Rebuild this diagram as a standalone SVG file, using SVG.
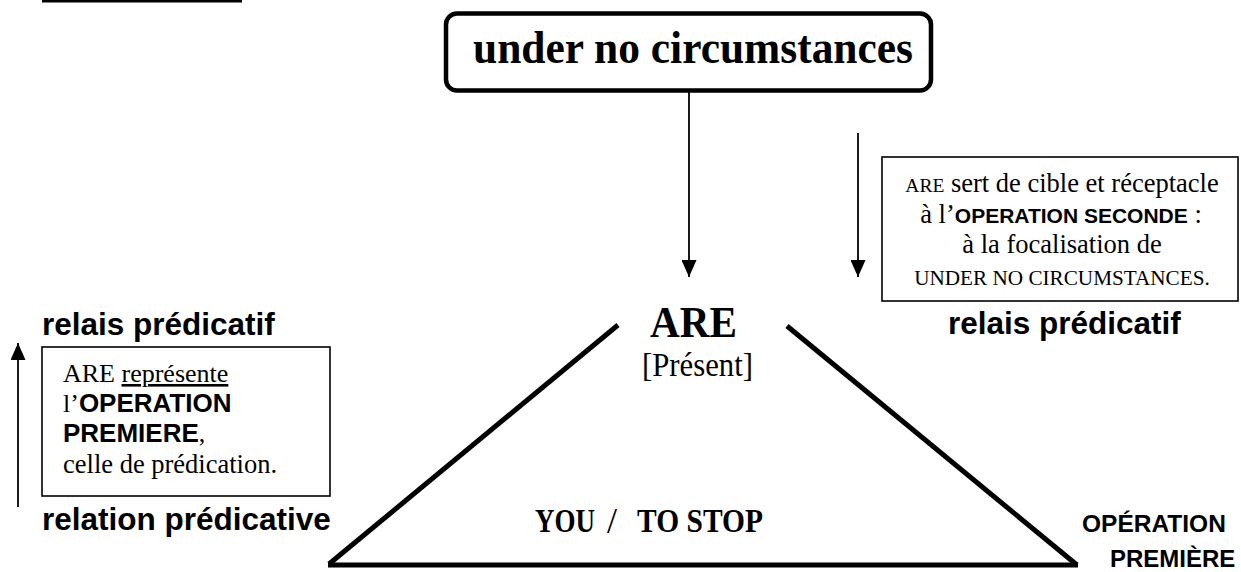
<svg xmlns="http://www.w3.org/2000/svg" width="1241" height="572" viewBox="0 0 1241 572">
<style>
.serif{font-family:"Liberation Serif","Times New Roman",serif;fill:#000}
.sans{font-family:"Liberation Sans",Arial,sans-serif;font-weight:bold;fill:#000}
.b{font-weight:bold}
.conn{stroke:#000;stroke-width:1.8;fill:none}
.tri{stroke:#000;stroke-width:5;fill:none;stroke-linecap:butt}
.box{stroke:#000;stroke-width:1.6;fill:#fff}
</style>
<defs>
<marker id="ah" markerWidth="17" markerHeight="15" refX="17" refY="7.5" orient="auto" markerUnits="userSpaceOnUse" viewBox="0 0 17 15">
<path d="M0,0 L17,7.5 L0,15 Z" fill="#000"/>
</marker>
</defs>
<rect x="42" y="0" width="200" height="2.5" fill="#000"/>
<g id="top-node">
<rect x="446" y="13.5" width="485" height="77" rx="11" ry="11" fill="#fff" stroke="#000" stroke-width="4.5"/>
<text class="serif b" x="473" y="63" font-size="46" textLength="440" lengthAdjust="spacingAndGlyphs">under no circumstances</text>
</g>
<g id="connectors">
<line class="conn" x1="689" y1="92" x2="689" y2="277" marker-end="url(#ah)"/>
<line class="conn" x1="858" y1="133" x2="858" y2="277" marker-end="url(#ah)"/>
<line class="conn" x1="18" y1="507" x2="18" y2="343" marker-end="url(#ah)"/>
</g>
<g id="triangle">
<line class="tri" x1="618" y1="325" x2="329" y2="564"/>
<line class="tri" x1="787" y1="326" x2="1077" y2="565"/>
<line class="tri" x1="328" y1="565" x2="1078" y2="565"/>
</g>
<g id="right-box">
<rect class="box" x="882" y="157" width="356" height="144"/>
<text class="serif" x="1062" y="192" font-size="26.5" text-anchor="middle"><tspan font-size="19.5">ARE</tspan> sert de cible et réceptacle</text>
<text class="serif" x="1061" y="223" font-size="26.5" text-anchor="middle">à l’<tspan class="sans" font-size="21">OPERATION SECONDE</tspan> :</text>
<text class="serif" x="1062" y="253" font-size="26.5" text-anchor="middle">à la focalisation de</text>
<text class="serif" x="1062" y="285" font-size="21.2" text-anchor="middle">UNDER NO CIRCUMSTANCES.</text>
</g>
<g id="are-node">
<text class="serif b" x="650" y="337" font-size="44" textLength="87" lengthAdjust="spacingAndGlyphs">ARE</text>
<text class="serif" x="642" y="376" font-size="33" textLength="111" lengthAdjust="spacingAndGlyphs">[Présent]</text>
</g>
<g id="label-relais-left">
<text class="sans" x="42" y="335" font-size="31.5">relais prédicatif</text>
</g>
<g id="label-relais-right">
<text class="sans" x="948" y="334" font-size="31.5">relais prédicatif</text>
</g>
<g id="left-box">
<rect class="box" x="42" y="347" width="288" height="149"/>
<text class="serif" x="63" y="382" font-size="26">ARE <tspan text-decoration="underline">représente</tspan></text>
<text class="serif" x="63" y="412" font-size="26">l’<tspan class="sans" font-size="26">OPERATION</tspan></text>
<text class="serif" x="63" y="442" font-size="26"><tspan class="sans" font-size="26">PREMIERE</tspan>,</text>
<text class="serif" x="63" y="473" font-size="26.5">celle de prédication.</text>
</g>
<g id="label-relation">
<text class="sans" x="42" y="530" font-size="31.5">relation prédicative</text>
</g>
<g id="base-label">
<text class="serif b" x="535" y="532" font-size="33" textLength="60" lengthAdjust="spacingAndGlyphs">YOU</text>
<text class="serif" x="607" y="533" font-size="36">/</text>
<text class="serif b" x="637" y="532" font-size="33" textLength="126" lengthAdjust="spacingAndGlyphs">TO STOP</text>
</g>
<g id="label-operation">
<text class="sans" x="1082" y="532" font-size="24.5">OPÉRATION</text>
<text class="sans" x="1110" y="567" font-size="24">PREMIÈRE</text>
</g>
</svg>
